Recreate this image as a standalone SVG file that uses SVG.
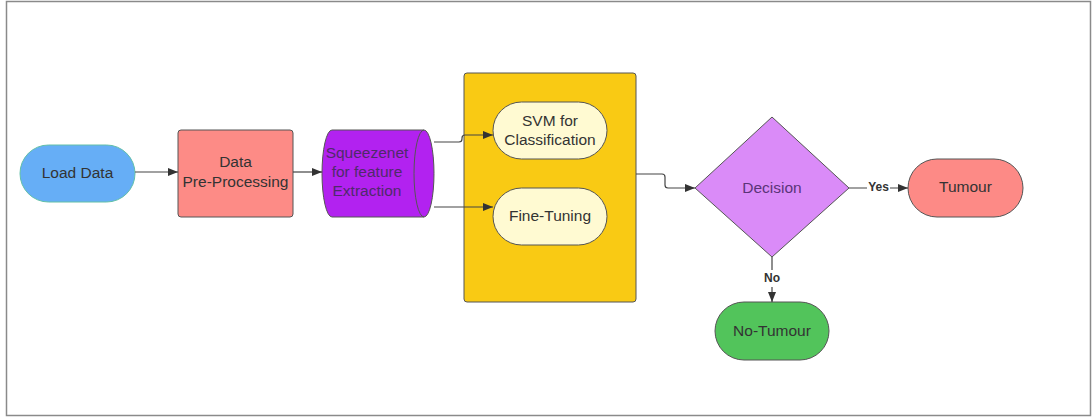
<svg xmlns="http://www.w3.org/2000/svg" width="1092" height="417" viewBox="0 0 1092 417">
<style>
text{font-family:"Liberation Sans",Arial,sans-serif;font-size:15.5px;fill:#333;text-anchor:middle;dominant-baseline:central}
.lbl{font-size:12px;font-weight:bold;fill:#333}
.edge{fill:none;stroke:#444;stroke-width:1.2}
.node{stroke:#555;stroke-width:1}
</style>
<defs>
<marker id="arr" viewBox="0 0 10 8" refX="10" refY="4" markerWidth="10" markerHeight="8" markerUnits="userSpaceOnUse" orient="auto">
<path d="M0,0 L10,4 L0,8 Z" fill="#333"/>
</marker>
</defs>
<rect width="1092" height="417" fill="#fff"/>
<rect x="6.5" y="1.5" width="1084" height="414" fill="none" stroke="#8a8a8a" stroke-width="1.5"/>

<g id="load-data">
<rect x="20" y="145" width="115" height="57" rx="28.5" fill="#66aef6" stroke="#62c0a8" stroke-width="1"/>
<text x="77.5" y="172">Load Data</text>
</g>

<g id="pre-processing">
<rect class="node" x="178" y="130" width="115" height="87" rx="3" fill="#fd8b86"/>
<text x="235.5" y="161">Data</text>
<text x="235.5" y="181">Pre-Processing</text>
</g>

<g id="squeezenet">
<path class="node" d="M332,130 H424 A10,43.5 0 0 1 424,217 H332 A10,43.5 0 0 1 332,130 Z" fill="#b222f0"/>
<path class="node" d="M424,130 A10,43.5 0 0 0 424,217" fill="none"/>
<text x="367" y="152" style="fill:#4f2a6a">Squeezenet</text>
<text x="367" y="171" style="fill:#4f2a6a">for feature</text>
<text x="367" y="190" style="fill:#4f2a6a">Extraction</text>
</g>

<g id="container">
<rect class="node" x="464" y="73" width="172" height="229" rx="3" fill="#f9ca14"/>
</g>

<g id="svm">
<rect class="node" x="493" y="102" width="114" height="57" rx="28.5" fill="#fffad2"/>
<text x="550" y="120">SVM for</text>
<text x="550" y="139">Classification</text>
</g>

<g id="fine-tuning">
<rect class="node" x="493" y="188" width="114" height="57" rx="28.5" fill="#fffad2"/>
<text x="550" y="215">Fine-Tuning</text>
</g>

<g id="decision">
<path class="node" d="M772,117 L849,188 L772,257 L695,188 Z" stroke-linejoin="round" fill="#da8bf8"/>
<text x="772" y="187" style="fill:#5a3478">Decision</text>
</g>

<g id="tumour">
<rect class="node" x="908" y="159" width="115" height="58" rx="29" fill="#fd8a86"/>
<text x="965.5" y="186">Tumour</text>
</g>

<g id="no-tumour">
<rect class="node" x="715" y="302" width="114" height="58" rx="29" fill="#52c45b"/>
<text x="772" y="330">No-Tumour</text>
</g>

<g id="connectors">
<path class="edge" d="M135,172 H178" marker-end="url(#arr)"/>
<path class="edge" d="M293,172 H322" marker-end="url(#arr)"/>
<path class="edge" d="M434,142 H459 Q462,142 462,139 V138 Q462,135 465,135 H493" marker-end="url(#arr)"/>
<path class="edge" d="M434,207 H493" marker-end="url(#arr)"/>
<path class="edge" d="M636,174 H662 Q665,174 665,177 V185 Q665,188 668,188 H695" marker-end="url(#arr)"/>
<path class="edge" d="M849,188 H867 M890,188 H908" marker-end="url(#arr)"/>
<text class="lbl" x="878.5" y="187">Yes</text>
<path class="edge" d="M772,257 V270 M772,287 V302" marker-end="url(#arr)"/>
<text class="lbl" x="772" y="278">No</text>
</g>
</svg>
